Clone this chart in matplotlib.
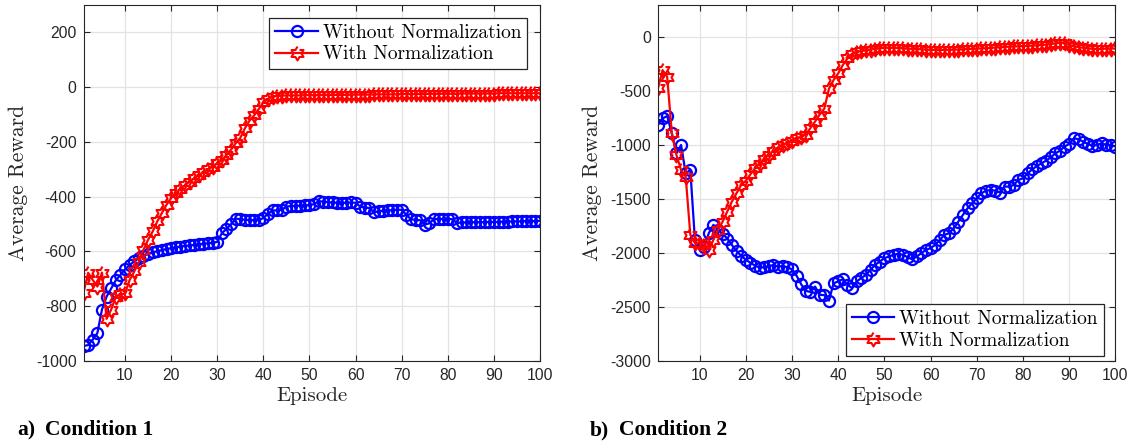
import numpy as np
import matplotlib
matplotlib.use('Agg')
import matplotlib.pyplot as plt

#%% Data
episodes = np.arange(1, 101)

# Condition 1
c1_without = [-945, -942, -922, -898, -812, -765, -735, -705, -686, -665,
              -650, -636, -625, -616, -609, -603, -599, -595, -591, -588,
              -585, -582, -580, -578, -576, -574, -572, -570, -568, -565,
              -533, -518, -500, -480, -482, -484, -485, -486, -485, -478,
              -462, -450, -450, -448, -436, -434, -433, -433, -432, -431,
              -427, -416, -418, -420, -421, -422, -422, -422, -421, -422,
              -436, -440, -441, -457, -453, -451, -450, -449, -447, -448,
              -466, -482, -485, -486, -502, -497, -482, -481, -481, -481,
              -482, -496, -494, -494, -493, -493, -493, -493, -492, -492,
              -492, -491, -491, -490, -490, -490, -489, -489, -489, -488]
c1_with = [-750, -678, -704, -728, -677, -846, -812, -765, -757, -753,
           -704, -673, -637, -594, -557, -527, -490, -459, -429, -405,
           -388, -372, -358, -345, -333, -322, -311, -300, -290, -278,
           -266, -248, -228, -205, -185, -150, -122, -103, -80, -55,
           -42, -34, -32, -31, -30, -30, -30, -30, -29, -29,
           -29, -29, -29, -28, -28, -28, -28, -28, -27, -27,
           -27, -27, -27, -26, -26, -26, -26, -26, -26, -25,
           -25, -25, -25, -25, -25, -24, -24, -24, -24, -24,
           -24, -24, -23, -23, -23, -23, -23, -23, -23, -23,
           -22, -22, -22, -22, -22, -22, -22, -22, -22, -22]

# Condition 2
c2_without = [-812, -750, -729, -889, -1074, -997, -1260, -1229, -1877, -1969,
              -1940, -1815, -1738, -1784, -1821, -1865, -1925, -1980, -2025, -2060,
              -2090, -2115, -2135, -2130, -2120, -2110, -2125, -2120, -2130, -2150,
              -2210, -2290, -2350, -2360, -2310, -2386, -2390, -2440, -2280, -2262,
              -2241, -2293, -2324, -2262, -2231, -2201, -2155, -2108, -2078, -2047,
              -2031, -2016, -2005, -2016, -2037, -2057, -2031, -2000, -1969, -1954,
              -1923, -1877, -1830, -1815, -1769, -1707, -1645, -1583, -1537, -1491,
              -1445, -1420, -1415, -1420, -1438, -1383, -1383, -1367, -1321, -1306,
              -1260, -1223, -1192, -1167, -1142, -1112, -1074, -1050, -1012, -987,
              -935, -944, -966, -987, -1006, -997, -981, -997, -997, -1012]
c2_with = [-472, -303, -365, -889, -1090, -1229, -1290, -1830, -1907, -1910,
           -1923, -1969, -1877, -1784, -1707, -1614, -1522, -1445, -1367, -1330,
           -1270, -1215, -1170, -1125, -1088, -1052, -1020, -995, -975, -960,
           -935, -920, -900, -840, -780, -715, -660, -475, -395, -333,
           -256, -195, -150, -135, -125, -118, -112, -106, -100, -96,
           -95, -96, -98, -100, -103, -106, -108, -110, -112, -115,
           -116, -116, -115, -114, -113, -112, -110, -108, -106, -104,
           -102, -100, -97, -94, -91, -88, -86, -84, -82, -80,
           -78, -76, -73, -70, -67, -62, -55, -47, -55, -72,
           -80, -90, -96, -101, -105, -107, -106, -104, -103, -102]

labels = ['Without Normalization', 'With Normalization']

#%% Figure
plt.rcParams['font.family'] = 'Liberation Sans'
plt.rcParams['axes.unicode_minus'] = False

# MATLAB style hexagram
ang = np.deg2rad(np.arange(12) * 30 + 90)
rad = np.where(np.arange(12) % 2 == 0, 1.0, 1 / np.sqrt(3))
hexagram = np.column_stack([rad * np.cos(ang), rad * np.sin(ang)])

fig = plt.figure(figsize=(11.35, 4.46), dpi=100)
ax1 = fig.add_axes([0.0736, 0.1906, 0.4022, 0.798])
ax2 = fig.add_axes([0.5797, 0.1906, 0.4031, 0.798])

panels = [(ax1, c1_without, c1_with, (-1000, 300), np.arange(-1000, 201, 200)),
          (ax2, c2_without, c2_with, (-3000, 300), np.arange(-3000, 1, 500))]

for ax, wo, wi, ylim, yt in panels:
    ax.plot(episodes, wo, color='b', lw=1.6, marker='o', ms=8,
            mfc='none', mew=1.6, label=labels[0])
    ax.plot(episodes, wi, color='r', lw=1.6, marker=hexagram, ms=10,
            mfc='none', mew=1.5, label=labels[1])
    ax.set_xlim(1, 100)
    ax.set_ylim(*ylim)
    ax.set_xticks(np.arange(10, 101, 10))
    ax.set_yticks(yt)
    ax.grid(True, color='#e3e3e3', lw=0.9)
    ax.set_axisbelow(True)
    ax.tick_params(direction='in', length=4, width=0.8, color='#262626',
                   labelsize=11.3, top=True, right=True, pad=5,
                   labelcolor='#262626')
    for s in ax.spines.values():
        s.set_color('#262626')
        s.set_linewidth(0.8)
    ax.set_xlabel('Episode', family='cmr10', fontsize=15, labelpad=3,
                  color='#262626')
    ax.set_ylabel('Average Reward', family='cmr10', fontsize=15.5,
                  labelpad=6, color='#262626')

leg_kw = dict(prop={'family': 'cmr10', 'size': 14}, fancybox=False,
              framealpha=1, edgecolor='#262626', borderaxespad=0,
              handlelength=2.2, handletextpad=0.25, labelspacing=0.2,
              borderpad=0.3)
l1 = ax1.legend(loc='upper right', bbox_to_anchor=(0.972, 0.964), **leg_kw)
l2 = ax2.legend(loc='lower right', bbox_to_anchor=(0.974, 0.015), **leg_kw)
for l in (l1, l2):
    l.get_frame().set_linewidth(0.9)

# panel captions
fig.text(17 / 1135, 1 - 435 / 446, 'a)', family='Liberation Serif',
         weight='bold', fontsize=15.5, va='baseline')
fig.text(45 / 1135, 1 - 435 / 446, 'Condition 1', family='Liberation Serif',
         weight='bold', fontsize=15.5, va='baseline')
fig.text(590 / 1135, 1 - 435 / 446, 'b)', family='Liberation Serif',
         weight='bold', fontsize=15.5, va='baseline')
fig.text(619 / 1135, 1 - 435 / 446, 'Condition 2', family='Liberation Serif',
         weight='bold', fontsize=15.5, va='baseline')

fig.savefig('out.png', dpi=100, facecolor='w')
